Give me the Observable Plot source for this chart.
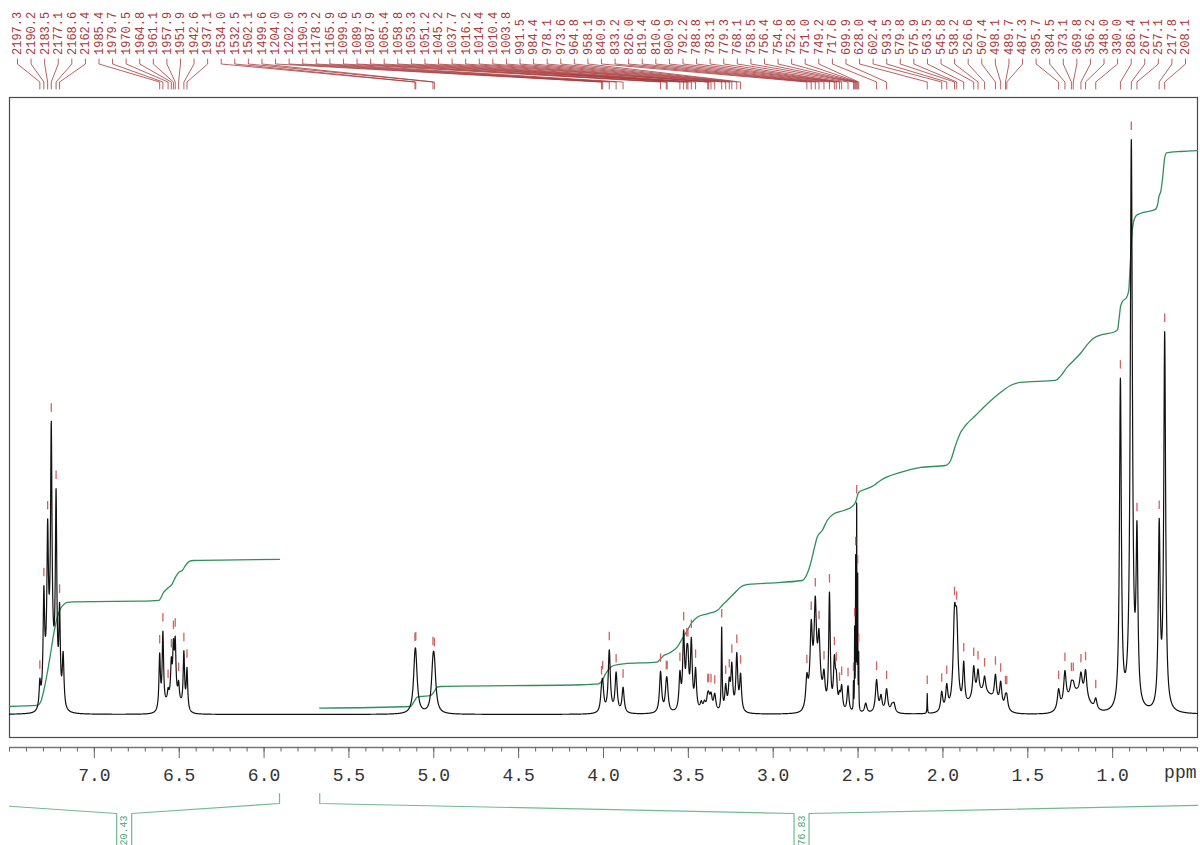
<!DOCTYPE html>
<html>
<head>
<meta charset="utf-8">
<script src="https://cdn.jsdelivr.net/npm/d3@7"></script>
<script src="https://cdn.jsdelivr.net/npm/@observablehq/plot@0.6"></script>
<style>
  html, body { margin: 0; padding: 0; background: #fff; overflow: hidden; }
  #chart svg { display: block; }
</style>
</head>
<body>
<div id="chart"></div>
<script>
// 1H NMR spectrum (300 MHz): picked peaks, integral traces and regions.
const SPECTROMETER_MHZ = 300.13;

// Picked peaks: frequency (Hz), apparent top height (% of tallest line), half width (ppm)
const peakHz = [2197.3, 2190.2, 2183.5, 2177.1, 2168.6, 2162.4,
  1985.4, 1979.7, 1970.5, 1964.8, 1961.1, 1957.9, 1951.9, 1942.6, 1937.1,
  1534.0, 1532.5, 1502.1, 1499.6,
  1204.0, 1202.0, 1190.3, 1178.2, 1165.9,
  1099.6, 1089.5, 1087.9,
  1065.4, 1058.8, 1053.3, 1051.2, 1045.2, 1037.7,
  1016.2, 1014.4, 1010.4, 1003.8,
  991.5, 984.4, 978.1, 973.6, 964.8, 958.1,
  840.9, 833.2, 826.0, 819.4, 810.6, 800.9, 792.2, 788.8, 783.1, 779.3, 768.1,
  758.5, 756.4, 754.6, 752.8, 751.0, 749.2,
  717.6, 699.9,
  628.0, 602.4, 593.5, 579.8, 575.9, 563.5, 545.8, 538.2, 526.6, 507.4, 498.1, 489.7, 487.3,
  395.7, 384.5, 373.1, 369.8, 356.2, 348.0, 330.0,
  286.4, 267.1, 257.1, 217.8, 208.1];

const peakHeight = [6.3, 22.4, 34, 51, 39.3, 19.5,
  10.7, 14.5, 4.7, 10.0, 13.2, 13.6, 5.9, 11.1, 8.2,
  11.1, 11.2, 10.4, 10.2,
  5.3, 6.2, 11.25, 7.4, 4.75,
  7.5, 6.2, 6.2,
  7.65, 14.7, 11.9, 11.9, 13.4, 8.2,
  3.9, 4.0, 3.9, 3.7,
  15.2, 5.4, 6.5, 9.1, 10.8, 7.2,
  7.25, 16.5, 20.6, 14.9, 7.9, 21.3, 10.4, 7.7, 4.2, 5.2, 5.0,
  5.9, 15.4, 27.8, 36.8, 24.6, 11.0,
  6.1, 4.5,
  3.65, 4.05, 5.4, 19.1, 18.3, 9.3, 8.5, 7.9, 6.7, 7.0, 5.8, 3.6, 3.6,
  4.5, 7.65, 5.9, 5.9, 7.4, 7.8, 2.9,
  58.5, 100, 33.7, 34.1, 66.6];

const peakWidth = [0.005, 0.005, 0.005, 0.005, 0.005, 0.005,
  0.005, 0.005, 0.005, 0.005, 0.005, 0.005, 0.005, 0.005, 0.005,
  0.011, 0.011, 0.011, 0.011,
  0.0075, 0.0075, 0.0075, 0.0075, 0.0075,
  0.0075, 0.0075, 0.0075,
  0.0065, 0.0065, 0.0065, 0.0065, 0.0065, 0.0065,
  0.008, 0.008, 0.008, 0.008,
  0.003, 0.0065, 0.0065, 0.0065, 0.0065, 0.0065,
  0.0075, 0.0075, 0.0075, 0.0075, 0.0075, 0.0055, 0.0065, 0.0065, 0.0065, 0.0065, 0.0065,
  0.0012, 0.0012, 0.0012, 0.0012, 0.0012, 0.0012,
  0.008, 0.008,
  0.0015, 0.0075, 0.0075, 0.0095, 0.0095, 0.0065, 0.0075, 0.0075, 0.0075, 0.0075, 0.0075, 0.0075, 0.0075,
  0.0085, 0.0085, 0.0085, 0.0085, 0.0085, 0.0085, 0.0085,
  0.0065, 0.0075, 0.0065, 0.0065, 0.0065];

// Unpicked shoulders (ppm, apparent height, half width)
const shoulderPpm = [7.184, 3.424, 3.405, 2.455, 2.365, 2.300, 2.288];
const shoulderHeight = [11.0, 2.4, 2.5, 2.0, 3.5, 2.0, 2.1];
const shoulderWidth = [0.006, 0.008, 0.008, 0.008, 0.008, 0.010, 0.008];

// Broad underlying humps (ppm, height, gaussian sigma)
const humpPpm = [7.262, 6.535, 2.75, 1.76, 1.21];
const humpHeight = [9, 2.5, 5, 3.5, 3.5];
const humpSigma = [0.028, 0.04, 0.03, 0.07, 0.06];

// Integral traces (ppm, running integral level)
const integral1Ppm = [7.5, 7.337, 7.317, 7.298, 7.278, 7.258, 7.239, 7.219, 7.199, 7.180, 7.160, 7.123,
  6.728, 6.620, 6.591, 6.571, 6.541, 6.522, 6.502, 6.482, 6.463, 6.438, 6.414, 5.909];
const integral1Level = [1.39, 1.57, 2.14, 4.17, 7.13, 10.61, 14.09, 16.87, 18.43, 19.13, 19.48, 19.60,
  19.70, 19.83, 21.27, 21.86, 22.73, 23.88, 24.75, 25.04, 25.91, 26.66, 26.78, 26.96];

const integral2Ppm = [5.672, 5.137, 5.118, 5.098, 5.078, 5.019, 5.000, 4.980, 4.960,
  4.135, 4.029, 4.008, 3.988, 3.958, 3.939, 3.880,
  3.684, 3.664, 3.645, 3.615, 3.566, 3.536, 3.507, 3.477, 3.448,
  3.389, 3.330, 3.301, 3.271, 3.232, 3.193, 3.163, 3.035,
  2.829, 2.800, 2.780, 2.761, 2.741, 2.711, 2.682, 2.643, 2.584, 2.535, 2.515, 2.496, 2.466, 2.407, 2.368,
  2.250, 2.132, 1.985, 1.955, 1.926, 1.896, 1.867, 1.808, 1.749, 1.661, 1.602, 1.543,
  1.337, 1.307, 1.268, 1.229, 1.190, 1.151, 1.112, 1.073,
  0.984, 0.971, 0.962, 0.954, 0.942, 0.918, 0.905, 0.898, 0.886, 0.875, 0.860, 0.837,
  0.747, 0.735, 0.727, 0.715, 0.704, 0.694, 0.682, 0.600, 0.500];
const integral2Level = [1.10, 1.39, 2.14, 3.01, 3.13, 3.30, 3.88, 4.75, 4.87,
  5.17, 5.34, 5.91, 7.08, 8.23, 8.52, 8.82,
  9.10, 9.69, 10.26, 10.66, 11.70, 13.17, 14.61, 16.05, 16.92,
  17.51, 18.09, 18.96, 19.83, 20.99, 22.14, 22.56, 22.83,
  23.30, 24.47, 26.21, 28.52, 30.83, 32.00, 33.74, 34.90, 35.48, 36.17, 36.92, 38.66, 39.08, 39.83, 40.70,
  42.09, 42.96, 43.30, 44.17, 46.78, 49.04, 50.26, 52.00, 53.74, 56.00, 57.22, 57.74,
  58.09, 58.85, 60.40, 61.57, 62.78, 64.28, 65.43, 65.97,
  66.61, 66.96, 68.87, 70.83, 71.83, 72.52, 73.74, 77.41, 83.60, 85.91, 86.78, 87.13,
  87.84, 88.70, 90.09, 91.13, 93.74, 96.73, 97.67, 97.91, 98.05];

// Integration regions (ppm) and their values
const integralRegions = [[7.740, 5.909], [5.672, -0.006]];
const integralValues = ["20.43", "76.83"];

// Axis ticks (ppm)
const majorTicks = [7.0, 6.5, 6.0, 5.5, 5.0, 4.5, 4.0, 3.5, 3.0, 2.5, 2.0, 1.5, 1.0];
const minorTicks = d3.range(5, 76).map(k => k / 10);

// ---- layout ----
const W = 1200, H = 845;
const M = {top: 97, right: 3, bottom: 98, left: 9};
const X_DOMAIN = [7.5, 0.5];
const Y_DOMAIN = [-5.74, 107.3];
const pxPerPpm = (W - M.left - M.right) / (X_DOMAIN[0] - X_DOMAIN[1]);
const pxPerUnit = (H - M.top - M.bottom) / (Y_DOMAIN[1] - Y_DOMAIN[0]);
const yAtPx = px => Y_DOMAIN[1] - (px - M.top) / pxPerUnit;   // page y -> intensity
const ppmAtPx = px => X_DOMAIN[0] - (px - M.left) / pxPerPpm; // page x -> ppm

const FONT = "'Liberation Mono', 'DejaVu Sans Mono', monospace";
const RED = "#a8383b", RED_TICK = "#d06262";
const GREEN = "#2f8f5b", GREEN_LIGHT = "#6fbb8f";

// ---- spectrum from the peak list (lorentzian lines on broad humps) ----
const lines = peakHz.map((hz, i) => ({ppm: hz / SPECTROMETER_MHZ, target: peakHeight[i], w: peakWidth[i], amp: peakHeight[i]}))
  .concat(shoulderPpm.map((p, i) => ({ppm: p, target: shoulderHeight[i], w: shoulderWidth[i], amp: shoulderHeight[i]})));
const humps = humpPpm.map((p, i) => ({ppm: p, h: humpHeight[i], s: humpSigma[i]}));

const humpAt = p => d3.sum(humps, g => g.h * Math.exp(-((p - g.ppm) ** 2) / (2 * g.s * g.s)));
const lineAt = (l, p) => l.amp * l.w * l.w / ((p - l.ppm) ** 2 + l.w * l.w);
const intensity = p => d3.sum(lines, l => lineAt(l, p)) + humpAt(p);

// adjust line amplitudes so each summed top sits at its apparent height
for (let it = 0; it < 300; it++) {
  for (const l of lines) {
    const v = intensity(l.ppm);
    l.amp = Math.max(0, l.amp + 0.6 * (l.target - v));
  }
}

const grid = d3.range(14001).map(k => X_DOMAIN[1] + k * 0.0005)
  .concat(lines.map(l => l.ppm))
  .sort((a, b) => a - b);
const spectrum = grid.map(p => ({ppm: p, v: intensity(p)}));

// ---- peak annotations ----
const N = peakHz.length;
const SLOT_FIRST_PX = 17, SLOT_LAST_PX = 1185;
const peaks = peakHz.map((hz, i) => {
  const ppm = hz / SPECTROMETER_MHZ;
  const v = intensity(ppm);
  const slotPx = SLOT_FIRST_PX + i * (SLOT_LAST_PX - SLOT_FIRST_PX) / (N - 1);
  return {i, hz, ppm, v, slot: ppmAtPx(slotPx), t1: v + 9 / pxPerUnit, t2: v + 17.5 / pxPerUnit};
});
const leaders = peaks.flatMap(d => [
  {k: d.i, x: d.slot, y: yAtPx(58.5)},
  {k: d.i, x: d.slot, y: yAtPx(63.5)},
  {k: d.i, x: d.ppm, y: yAtPx(81.5)},
  {k: d.i, x: d.ppm, y: yAtPx(88.5)}
]);

// ---- integrals ----
const integral1 = integral1Ppm.map((p, i) => ({ppm: p, v: integral1Level[i]}));
const integral2 = integral2Ppm.map((p, i) => ({ppm: p, v: integral2Level[i]}));

const TICK_TOP = 793, ARM_END = 803, BOX_TOP = 813, BOX_BOTTOM = 852, BOX_HALF = 7.5;
function clampArm(outer, inner) {
  // cut an arm of the bracket at the visible ppm range
  const lo = X_DOMAIN[1], hi = X_DOMAIN[0];
  if (outer.x <= hi && outer.x >= lo) return {pt: outer, cut: false};
  const edge = outer.x > hi ? hi : lo;
  const t = (edge - outer.x) / (inner.x - outer.x);
  return {pt: {x: edge, px: outer.px + t * (inner.px - outer.px)}, cut: true};
}
const brackets = integralRegions.flatMap(([a, b], r) => {
  const c = (a + b) / 2, h = BOX_HALF / pxPerPpm;
  const leftIn = {x: c + h, px: BOX_TOP}, rightIn = {x: c - h, px: BOX_TOP};
  const L = clampArm({x: a, px: ARM_END}, leftIn);
  const R = clampArm({x: b, px: ARM_END}, rightIn);
  const left = (L.cut ? [] : [{x: a, px: TICK_TOP}]).concat([L.pt, leftIn, {x: c + h, px: BOX_BOTTOM}]);
  const right = [{x: c - h, px: BOX_BOTTOM}, rightIn, R.pt].concat(R.cut ? [] : [{x: b, px: TICK_TOP}]);
  return [
    ...left.map(q => ({k: `${r}L`, x: q.x, y: yAtPx(q.px)})),
    ...right.map(q => ({k: `${r}R`, x: q.x, y: yAtPx(q.px)}))
  ];
});
const bracketLabels = integralRegions.map(([a, b], r) => ({x: (a + b) / 2, y: yAtPx(845), text: integralValues[r]}));

const chart = Plot.plot({
  width: W,
  height: H,
  marginTop: M.top,
  marginRight: M.right,
  marginBottom: M.bottom,
  marginLeft: M.left,
  x: {domain: X_DOMAIN, label: null},
  y: {domain: Y_DOMAIN, axis: null},
  style: {fontFamily: FONT, color: "#333", background: "#fff", overflow: "hidden"},
  marks: [
    Plot.frame({insetBottom: 10, stroke: "#4a4a4a", strokeWidth: 1.2}),
    Plot.ruleY([Y_DOMAIN[0]], {stroke: "#777", strokeWidth: 1.6}),
    Plot.axisX({ticks: minorTicks, tickSize: 4.5, tickFormat: () => "", label: null, stroke: "#666"}),
    Plot.axisX({ticks: majorTicks, tickSize: 11, tickPadding: 10, tickFormat: d3.format(".1f"), label: null,
      fontSize: 18, fontFamily: FONT, stroke: "#666"}),
    Plot.text(["ppm"], {frameAnchor: "bottom-right", dx: -1, dy: 30, textAnchor: "end", fontSize: 18, fontFamily: FONT, fill: "#333"}),

    // integral traces
    Plot.line(integral1, {x: "ppm", y: "v", stroke: GREEN, strokeWidth: 1.3, curve: "monotone-x"}),
    Plot.line(integral2, {x: "ppm", y: "v", stroke: GREEN, strokeWidth: 1.3, curve: "monotone-x"}),

    // spectrum
    Plot.line(spectrum, {x: "ppm", y: "v", stroke: "#111", strokeWidth: 1.2}),

    // peak picking
    Plot.ruleX(peaks, {x: "ppm", y1: "t1", y2: "t2", stroke: RED_TICK, strokeWidth: 1.3}),
    Plot.line(leaders, {x: "x", y: "y", z: "k", stroke: RED, strokeWidth: 0.8}),
    Plot.text(peaks, {x: "slot", y: yAtPx(54.5), text: d => d.hz.toFixed(1), rotate: -90,
      textAnchor: "start", lineAnchor: "middle", fontSize: 12, fontFamily: FONT, fill: RED}),

    // integration brackets
    Plot.line(brackets, {x: "x", y: "y", z: "k", stroke: GREEN_LIGHT, strokeWidth: 1.2}),
    Plot.text(bracketLabels, {x: "x", y: "y", text: "text", rotate: -90, textAnchor: "start", lineAnchor: "middle",
      fontSize: 10, fontFamily: FONT, fill: "#4fa374"})
  ]
});
document.getElementById("chart").appendChild(chart);
</script>
</body>
</html>
